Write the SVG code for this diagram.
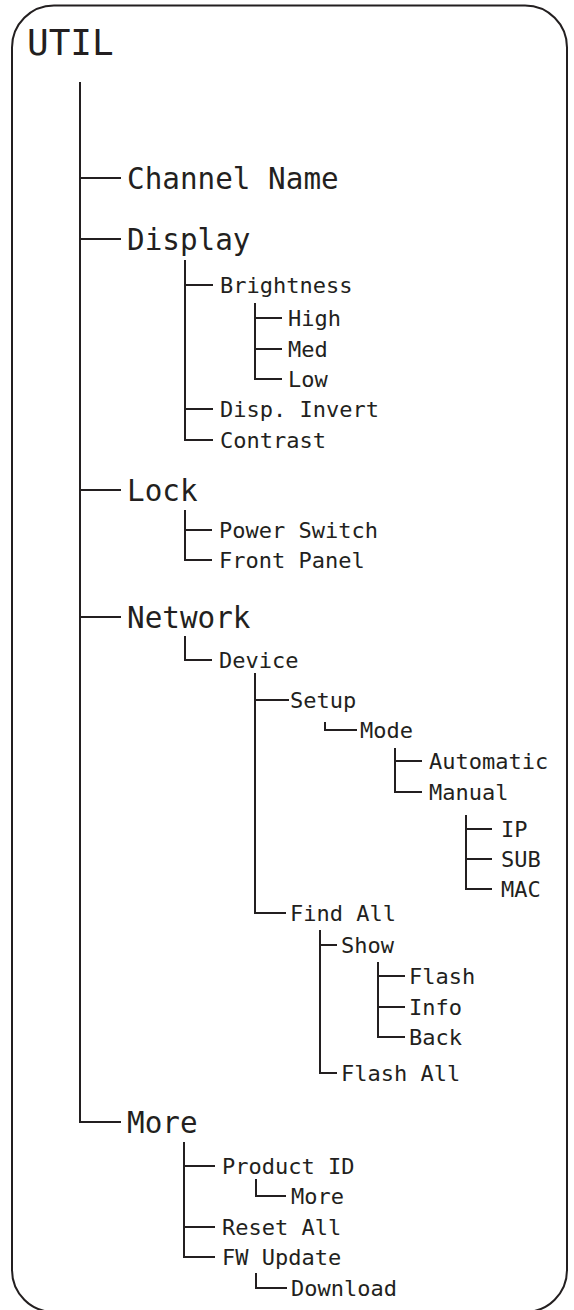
<svg xmlns="http://www.w3.org/2000/svg" width="574" height="1310" viewBox="0 0 574 1310">
<style>
.frame{fill:none;stroke:#231f20;stroke-width:2}
.c{fill:none;stroke:#231f20;stroke-width:2}
text{font-family:"DejaVu Sans Mono","Liberation Mono",monospace;fill:#231f20}
.t0{font-size:36px}
.t1{font-size:29.3px}
.t2{font-size:22px}
</style>
<rect class="frame" x="12" y="5.5" width="555" height="1306.5" rx="42" ry="42"/>
<g id="connectors">
<path class="c" d="M80 82V1122H121"/>
<path class="c" d="M80 178H121M80 239H121M80 490H121M80 617H121"/>
<path class="c" d="M185 260V440H213M185 285H213M185 409H213"/>
<path class="c" d="M255 303V379H282M255 318H282M255 349H282"/>
<path class="c" d="M185 510V560H212M185 530H212"/>
<path class="c" d="M185 636V660H212"/>
<path class="c" d="M255 673V913H286M255 700H289"/>
<path class="c" d="M325 722V730H357"/>
<path class="c" d="M395 748V792H422M395 761H422"/>
<path class="c" d="M466 815V889H492M466 829H492M466 859H492"/>
<path class="c" d="M320 930V1073H337M320 945H337"/>
<path class="c" d="M378 962V1037H405M378 976H405M378 1007H405"/>
<path class="c" d="M184 1142V1257H215M184 1166H215M184 1227H215"/>
<path class="c" d="M256 1179V1196H286"/>
<path class="c" d="M256 1273V1288H287"/>
</g>
<g id="n-util"><text class="t0" x="27" y="55">UTIL</text></g>
<g id="n-channel"><text class="t1" x="127" y="188.5">Channel Name</text></g>
<g id="n-display"><text class="t1" x="127" y="249.5">Display</text></g>
<g id="n-brightness"><text class="t2" x="220" y="293">Brightness</text></g>
<g id="n-high"><text class="t2" x="288" y="326">High</text></g>
<g id="n-med"><text class="t2" x="288" y="357">Med</text></g>
<g id="n-low"><text class="t2" x="288" y="387">Low</text></g>
<g id="n-invert"><text class="t2" x="220" y="417">Disp. Invert</text></g>
<g id="n-contrast"><text class="t2" x="220" y="448">Contrast</text></g>
<g id="n-lock"><text class="t1" x="127" y="500.5">Lock</text></g>
<g id="n-power"><text class="t2" x="219" y="538">Power Switch</text></g>
<g id="n-front"><text class="t2" x="219" y="568">Front Panel</text></g>
<g id="n-network"><text class="t1" x="127" y="627.5">Network</text></g>
<g id="n-device"><text class="t2" x="219" y="668">Device</text></g>
<g id="n-setup"><text class="t2" x="290" y="708">Setup</text></g>
<g id="n-mode"><text class="t2" x="360" y="738">Mode</text></g>
<g id="n-auto"><text class="t2" x="429" y="769">Automatic</text></g>
<g id="n-manual"><text class="t2" x="429" y="800">Manual</text></g>
<g id="n-ip"><text class="t2" x="501" y="837">IP</text></g>
<g id="n-sub"><text class="t2" x="501" y="867">SUB</text></g>
<g id="n-mac"><text class="t2" x="501" y="897">MAC</text></g>
<g id="n-findall"><text class="t2" x="290" y="921">Find All</text></g>
<g id="n-show"><text class="t2" x="341" y="953">Show</text></g>
<g id="n-flash"><text class="t2" x="409" y="984">Flash</text></g>
<g id="n-info"><text class="t2" x="409" y="1015">Info</text></g>
<g id="n-back"><text class="t2" x="409" y="1045">Back</text></g>
<g id="n-flashall"><text class="t2" x="341" y="1081">Flash All</text></g>
<g id="n-more"><text class="t1" x="127" y="1132.5">More</text></g>
<g id="n-productid"><text class="t2" x="222" y="1174">Product ID</text></g>
<g id="n-more2"><text class="t2" x="291" y="1204">More</text></g>
<g id="n-reset"><text class="t2" x="222" y="1235">Reset All</text></g>
<g id="n-fw"><text class="t2" x="222" y="1265">FW Update</text></g>
<g id="n-download"><text class="t2" x="291" y="1296">Download</text></g>
</svg>
